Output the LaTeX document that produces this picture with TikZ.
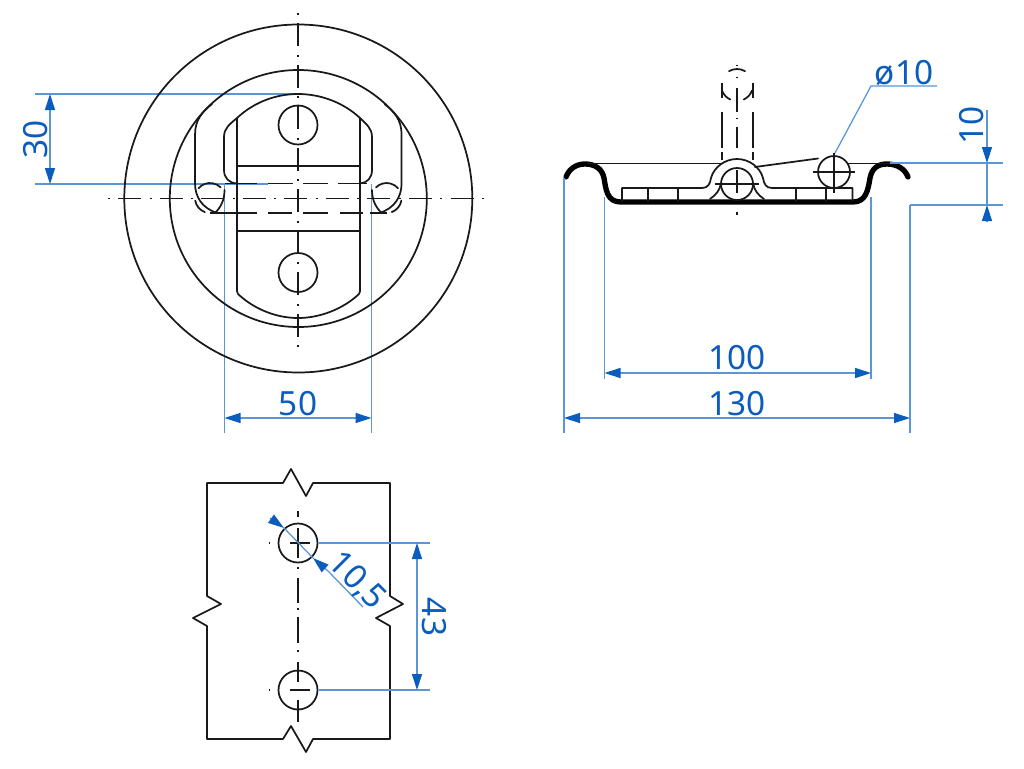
\documentclass[tikz,border=0pt]{standalone}
\usepackage{fontspec}
\setmainfont{Noto Sans}
\usetikzlibrary{arrows.meta}
\definecolor{dimblue}{HTML}{0A5CBD}
\definecolor{dimline}{HTML}{5A96D8}
\tikzset{
  part/.style={draw=black!90,line width=1.3pt,line cap=round,line join=round},
  thin part/.style={draw=black!90,line width=1.1pt},
  heavy/.style={draw=black,line width=4pt,line cap=round,line join=round},
  centre/.style={draw=black!90,line width=1.2pt,dash pattern=on 1.5pt off 6.2pt on 17.25pt off 6.2pt},
  hidden/.style={draw=black!90,line width=1.3pt},
  dim/.style={draw=dimline,line width=.95pt},
  dimarrow/.style={draw=dimline,line width=.95pt,{Triangle[length=12pt,width=7.5pt,color=dimblue]}-{Triangle[length=12pt,width=7.5pt,color=dimblue]}},
  dimtip/.style={draw=dimline,line width=.95pt,-{Triangle[length=12pt,width=7.5pt,color=dimblue]}},
  dimlabel/.style={text=dimblue,font=\fontsize{25}{25}\selectfont,inner sep=0pt}
}
\begin{document}
\begin{tikzpicture}[x=.75pt,y=-.75pt]
\useasboundingbox[fill=white] (0,0) rectangle (1024,768);

% dimensions, front view (under the part lines)
\coordinate (a30t) at (35,94);
\coordinate (a30b) at (35,184);
\coordinate (e30t) at (298,94);
\coordinate (e30b) at (268,184);
\draw[dim] (a30t) -- (e30t);
\draw[dim] (a30b) -- (e30b);
\coordinate (d30t) at (50,94);
\coordinate (d30b) at (50,184);
\draw[dimarrow] (d30t) -- (d30b);
\node[dimlabel,rotate=90] (t30) at (35.5,139) {30};

\coordinate (e50l) at (224.5,184);
\coordinate (e50r) at (371.5,184);
\coordinate (d50l) at (224.5,418);
\coordinate (d50r) at (371.5,418);
\draw[dim] (e50l) -- (224.5,433);
\draw[dim] (e50r) -- (371.5,433);
\draw[dimarrow] (d50l) -- (d50r);
\node[dimlabel] (t50) at (298,404) {50};

% ---------- front view ----------
\coordinate (fc) at (298.3,198.5);
\draw[part] (fc) circle[radius=174];
\draw[part] (fc) circle[radius=128.5];
\draw[part] (298,125) circle[radius=19.5];
\draw[part] (298,272.5) circle[radius=19.5];
% plate
\draw[part] (237,291) -- (237,118) .. controls (253.6,102.5) and (275.3,94) .. (298,94)
  .. controls (320.7,94) and (343.4,102.5) .. (360,118) -- (360,291);
\draw[part] (237,291) -- (238,294) .. controls (254,309) and (276,318) .. (298,318)
  .. controls (320,318) and (343,309) .. (359,294) -- (360,291);
\draw[part] (237,166) -- (360,166);
\draw[part] (237,231) -- (360,231);
% inner edge of ring
\draw[part] (224,137) .. controls (224,128) and (230,124) .. (237,118);
\draw[part] (372,137) .. controls (372,128) and (366,124) .. (360,118);
\draw[part] (224,137) -- (224,170) .. controls (224,178) and (229,183) .. (237,183.5);
\draw[part] (372,137) -- (372,170) .. controls (372,178) and (367,183) .. (360,183.5);
% outer edge of ring
\draw[part] (212,104) .. controls (202,112) and (195,120) .. (195,135) -- (195,183)
  .. controls (195,197) and (202,208) .. (217,213);
\draw[part] (384.6,104) .. controls (394.6,112) and (401.6,120) .. (401.6,135) -- (401.6,183)
  .. controls (401.6,197) and (394.6,208) .. (379.6,213);
\draw[part] (224.5,190) .. controls (224.5,200) and (221,207) .. (215,213);
\draw[part] (372,190) .. controls (372,200) and (375.6,207) .. (381.6,213);
% swung-over eyes
\foreach \cx/\a/\b in {210/-140/-45, 386.6/-135/-40}{
  \draw[part] (\cx,198) ++(\a:15) arc[start angle=\a,end angle=\b,radius=15];
}
\draw[part] (210,198) ++(170:15) arc[start angle=170,end angle=110,radius=15];
\draw[part] (386.6,198) ++(10:15) arc[start angle=10,end angle=70,radius=15];
% hidden lines
\foreach \a/\b in {225/257,268/293,303/328,338/367}{
  \draw[hidden] (\a,183.5) -- (\b,183.5);
}
\foreach \a/\b in {210/257,268/292,303/328,340/363,370/387}{
  \draw[hidden] (\a,213) -- (\b,213);
}
% centre lines
\draw[centre] (298,13) -- (298,349);
\draw[centre] (108,198.5) -- (488,198.5);

% ---------- side view ----------
\draw[heavy] (566,177) .. controls (569,169) and (576,164) .. (585,164)
  .. controls (594,164) and (602,168) .. (604,178)
  .. controls (606,190) and (607,202) .. (621,202) -- (853,202)
  .. controls (866,202) and (868,190) .. (870,178)
  .. controls (872,168) and (878,164) .. (887,164)
  .. controls (897,164) and (905,169) .. (908,177);
\draw[part] (588,163.5) -- (721,163.5);
\draw[part] (848,163.5) -- (890,163.5);
\draw[part] (755,167) -- (818,158.5);
% strap
\draw[part] (622,201) -- (622,188) -- (702,188) .. controls (708,188) and (710,184) .. (711,178)
  .. controls (714,167) and (725,159) .. (737,159) .. controls (749,159) and (760,167) .. (763,178)
  .. controls (764,184) and (766,188) .. (772,188) -- (852.5,188) -- (852.5,201);
\foreach \x in {648,678,796,826}{\draw[part] (\x,188) -- (\x,201);}
% pin and flares
\draw[part] (737,184) circle[radius=16];
\draw[part] (710,199) .. controls (716,195) and (720,190) .. (721,183);
\draw[part] (764,199) .. controls (758,195) and (754,190) .. (753,183);
\draw[thin part] (715,184) -- (759,184);
\draw[thin part] (737,170) -- (737,193);
\draw[part] (834,172) circle[radius=16];
\draw[thin part] (813,172) -- (855,172);
\draw[thin part] (834,153) -- (834,193);
% upright position (phantom)
\foreach \x in {722,753}{
  \draw[hidden] (\x,83) -- (\x,98);
  \draw[hidden] (\x,112) -- (\x,148);
  \draw[hidden] (\x,152) -- (\x,160);
}
\draw[part] (737,85) ++(-120:16) arc[start angle=-120,end angle=-60,radius=16];
\draw[part] (737,85) ++(160:16) arc[start angle=160,end angle=115,radius=16];
\draw[part] (737,85) ++(20:16) arc[start angle=20,end angle=65,radius=16];
\foreach \a/\b in {64.5/66,76.5/78,88/112,117.5/119,127/148,157.5/159,212/214.5}{
  \draw[thin part] (737,\a) -- (737,\b);
}

% dimensions, side view
\coordinate (l10a) at (835,153);
\coordinate (l10b) at (871,86);
\coordinate (l10c) at (937,86);
\draw[dim] (l10a) -- (l10b) -- (l10c);
\node[dimlabel] (tphi) at (904,73) {ø10};

\coordinate (e10t) at (890,163);
\coordinate (e10tr) at (1003,163);
\coordinate (e10b) at (910,205);
\coordinate (e10br) at (1003,205);
\draw[dim] (e10t) -- (e10tr);
\draw[dim] (e10b) -- (e10br);
\coordinate (d10s) at (987,110);
\coordinate (d10t) at (987,163);
\coordinate (d10b) at (987,205);
\coordinate (d10e) at (987,221);
\draw[dimtip] (d10s) -- (d10t);
\draw[dim] (d10t) -- (d10b);
\draw[dimtip] (d10e) -- (d10b);
\node[dimlabel,rotate=90] (t10) at (972,125) {10};

\draw[dim] (604.5,197) -- (604.5,379);
\draw[dim] (871,197) -- (871,379);
\coordinate (d100l) at (604.5,373);
\coordinate (d100r) at (871,373);
\draw[dimarrow] (d100l) -- (d100r);
\node[dimlabel] (t100) at (737,358) {100};

\draw[dim] (564,178) -- (564,433);
\draw[dim] (910,205) -- (910,433);
\coordinate (d130l) at (564,418);
\coordinate (d130r) at (910,418);
\draw[dimarrow] (d130l) -- (d130r);
\node[dimlabel] (t130) at (737,404) {130};

% ---------- hole pattern ----------
\draw[part] (207,483) -- (283,483) -- (291,469) -- (306,496) -- (313,483) -- (390,483)
  -- (390,596) -- (403,604) -- (376,618) -- (390,626) -- (390,739)
  -- (313,739) -- (306,752) -- (291,726) -- (283,739) -- (207,739)
  -- (207,626) -- (193,618) -- (221,604) -- (207,596) -- cycle;
\draw[part] (298,543) circle[radius=19.5];
\draw[part] (298,690) circle[radius=19.5];
\draw[thin part] (290,543) -- (310,543);
\draw[thin part] (290,690) -- (310,690);
\draw[thin part] (268.5,543) -- (270,543);
\draw[thin part] (268.5,690) -- (270,690);
\foreach \a/\b in {511/517,528/558,567/568.5,578/603,608/609.5,617/643,650/651.5,662/682,700/722}{
  \draw[thin part] (298,\a) -- (298,\b);
}
\coordinate (e43t) at (319,543);
\coordinate (e43tr) at (430,543);
\coordinate (e43b) at (319,690);
\coordinate (e43br) at (430,690);
\draw[dim] (e43t) -- (e43tr);
\draw[dim] (e43b) -- (e43br);
\coordinate (d43t) at (417,543);
\coordinate (d43b) at (417,690);
\draw[dimarrow] (d43t) -- (d43b);
\node[dimlabel,rotate=-90] (t43) at (434,617) {43};

\coordinate (l105a) at (270,518);
\coordinate (l105b) at (284,528);
\coordinate (l105c) at (313,558);
\coordinate (l105d) at (328,571);
\coordinate (l105e) at (363,607);
\draw[dimtip] (l105a) -- (l105b);
\draw[dim] (l105b) -- (l105c);
\draw[dimtip] (l105d) -- (l105c);
\draw[dim] (l105d) -- (l105e);
\node[dimlabel,rotate=-45] (t105) at (357,581) {10,5};
\end{tikzpicture}
\end{document}
